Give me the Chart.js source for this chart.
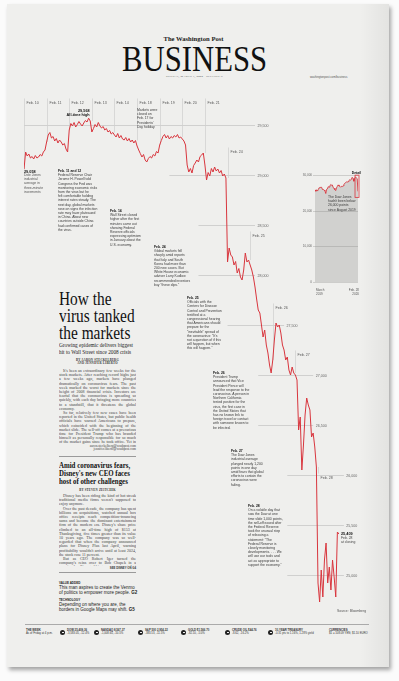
<!DOCTYPE html>
<html><head><meta charset="utf-8">
<script src="https://cdn.jsdelivr.net/npm/chart.js@4.4.0/dist/chart.umd.min.js"></script>
<style>
html,body{margin:0;padding:0;width:399px;height:681px;overflow:hidden;background:#fbfbfb;}
#paper{position:absolute;left:7px;top:4px;width:382px;height:663px;background:#efefed;box-shadow:2px 3px 4px rgba(0,0,0,0.35);}
#edge{position:absolute;left:360px;top:4px;width:29px;height:663px;background:linear-gradient(to right,rgba(0,0,0,0),rgba(0,0,0,0.05));}
canvas{position:absolute;}
.t{position:absolute;white-space:nowrap;color:#1a1a1a;}
.ann{position:absolute;font-family:"Liberation Sans",Arial,sans-serif;font-size:3.4px;line-height:4.2px;color:#3a3a3a;white-space:nowrap;z-index:3;}
.ann b{color:#111;}
.serif{font-family:"Liberation Serif","Times New Roman",serif;}
.body{position:absolute;font-family:"Liberation Serif",serif;font-size:4px;line-height:4.2px;color:#444;text-align:justify;width:77px;overflow:hidden;}
.body p{margin:0;text-indent:4px;}
.tick{position:absolute;font-family:"Liberation Sans",sans-serif;font-size:2.8px;line-height:3.6px;color:#333;white-space:nowrap;}
.ico{position:absolute;width:5px;height:5px;border-radius:50%;background:#222;}
.ico:after{content:"";position:absolute;left:1.5px;top:2px;width:2px;height:1px;background:#eee;}
</style></head>
<body>
<div id="paper"></div>
<div id="edge"></div>

<!-- masthead -->
<div class="t serif" style="left:163px;top:35px;width:61px;text-align:center;font-size:6.6px;line-height:7px;font-weight:bold;">The Washington Post</div>
<div class="t serif" style="left:122px;top:41px;font-size:36px;line-height:36px;transform:scaleX(0.853);transform-origin:left top;color:#111;">BUSINESS</div>
<div class="t serif" style="left:159px;top:74.5px;width:71px;text-align:center;font-size:2.8px;letter-spacing:0.25px;color:#444;">SUNDAY, MARCH 1, 2020 · SECTION G</div>
<div class="t" style="left:310px;top:74.5px;font-family:'Liberation Sans';font-size:2.8px;color:#555;">washingtonpost.com/business</div>

<canvas id="main" width="399" height="681" style="left:0;top:0;z-index:2;"></canvas>
<canvas id="inset" width="70" height="140" style="left:296px;top:165px;z-index:2;"></canvas>

<!-- chart annotations -->
<div class="ann" style="left:24px;top:173px;color:#555;">Dow Jones<br>industrial<br>average in<br>three-minute<br>increments</div>
<div class="ann" style="left:58px;top:169px;"><b>Feb. 11 and 12</b><br>Federal Reserve Chair<br>Jerome H. Powell told<br>Congress the Fed was<br>monitoring economic risks<br>from the virus but he<br>felt comfortable holding<br>interest rates steady. The<br>next day, global markets<br>rose on signs the infection<br>rate may have plateaued<br>in China. About new<br>countries outside China<br>had confirmed cases of<br>the virus.</div>
<div class="ann" style="left:137px;top:108px;">Markets were<br>closed on<br>Feb. 17 for<br>Presidents'<br>Day holiday</div>
<div class="ann" style="left:110px;top:209px;"><b>Feb. 14</b><br>Wall Street closed<br>higher after the first<br>minutes came out<br>showing Federal<br>Reserve officials<br>expressing optimism<br>in January about the<br>U.S. economy.</div>
<div class="ann" style="left:154px;top:245px;"><b>Feb. 24</b><br>Global markets fell<br>sharply amid reports<br>that Italy and South<br>Korea had more than<br>200 new cases. But<br>White House economic<br>adviser Larry Kudlow<br>recommended investors<br>buy "these dips."</div>
<div class="ann" style="left:187px;top:296px;"><b>Feb. 25</b><br>Officials with the<br>Centers for Disease<br>Control and Prevention<br>testified at a<br>congressional hearing<br>that Americans should<br>prepare for the<br>"inevitable" spread of<br>the coronavirus: "It's<br>not a question of if this<br>will happen, but when<br>this will happen."</div>
<div class="ann" style="left:213px;top:371px;"><b>Feb. 26</b><br>President Trump<br>announced that Vice<br>President Pence will<br>lead the response to the<br>coronavirus. A person in<br>Northern California<br>tested positive for the<br>virus, the first case in<br>the United States that<br>has no known link to<br>foreign travel or contact<br>with someone known to<br>be infected.</div>
<div class="ann" style="left:231px;top:449px;"><b>Feb. 27</b><br>The Dow Jones<br>industrial average<br>plunged nearly 1,200<br>points in one day<br>amid fears that global<br>efforts to contain the<br>coronavirus were<br>failing.</div>
<div class="ann" style="left:248px;top:504px;"><b>Feb. 28</b><br>On a volatile day that<br>saw the Dow at one<br>time slide 1,000 points,<br>the sell-off eased after<br>the Federal Reserve<br>took the unusual step<br>of releasing a<br>statement: "The<br>Federal Reserve is<br>closely monitoring<br>developments. . . . We<br>will use our tools and<br>act as appropriate to<br>support the economy."</div>
<div class="ann" style="left:337px;top:609px;color:#555;">Source: Bloomberg</div>
<div class="ann" style="left:328px;top:195px;">The Dow Jones<br>hadn't been below<br>26,000 points<br>since August 2019</div>
<div class="ann" style="left:316px;top:289px;font-size:3px;line-height:3.6px;color:#555;">March<br>2019</div>
<div class="ann" style="left:346px;top:289px;width:13px;text-align:right;font-size:3px;line-height:3.6px;color:#555;">Feb. 28<br>2020</div>

<!-- left column -->
<div class="t serif" style="left:59px;top:290px;font-size:19px;line-height:17px;transform:scaleX(0.81);transform-origin:left top;color:#111;">How the<br>virus tanked<br>the markets</div>
<div class="t serif" style="left:59px;top:342px;font-size:6.6px;line-height:6.8px;transform:scaleX(0.8);transform-origin:left top;color:#222;">Growing epidemic delivers biggest<br>hit to Wall Street since 2008 crisis</div>
<div class="t serif" style="left:59px;top:358.5px;width:77px;text-align:center;font-size:3px;line-height:3.9px;font-weight:bold;letter-spacing:0.2px;color:#333;">BY AARON STECKELBERG<br>AND JENNIFER LIBERTO</div>
<div class="body" style="left:59px;top:369px;height:76px;">
<p>It's been an extraordinary few weeks for the stock markets. After reaching record highs just a few weeks ago, markets have plunged dramatically on coronavirus fears. The past week marked the worst for markets since the height of 2008 financial crisis. Investors are fearful that the coronavirus is spreading so quickly, with each day bringing more countries to a standstill, that it threatens the global economy.</p>
<p>So far, relatively few new cases have been reported in the United States, but public health officials have warned Americans to prepare, which coincided with the beginning of the market slide. The sell-off comes at a precarious time for President Trump who has branded himself as personally responsible for so much of the market gains since he took office. Yet in the past week, Wall Street lost more than a third of stock gains since President Trump's election in November 2016.</p>
</div>
<div class="t serif" style="left:59px;top:444.5px;width:77px;text-align:right;font-size:3.4px;line-height:3.8px;color:#444;">aaron.steckelberg@washpost.com<br>jennifer.liberto@washpost.com</div>
<div style="position:absolute;left:59px;top:455.5px;width:77px;height:1px;background:#9a9a9a;"></div>
<div class="t serif" style="left:59px;top:461px;font-size:8.6px;line-height:8.2px;transform:scaleX(0.8);transform-origin:left top;color:#111;font-weight:bold;">Amid coronavirus fears,<br>Disney's new CEO faces<br>host of other challenges</div>
<div class="t serif" style="left:59px;top:487.5px;width:77px;text-align:center;font-size:3px;font-weight:bold;letter-spacing:0.2px;color:#333;">BY STEVEN ZEITCHIK</div>
<div class="body" style="left:59px;top:494px;height:72px;">
<p>Disney has been riding the kind of hot streak traditional media firms weren't supposed to enjoy anymore.</p>
<p>Over the past decade, the company has spent billions on acquisitions, watched annual box office receipts reach competition-trouncing sums and become the dominant entertainment firm of the modern era. Disney's share price climbed to an all-time high of $153 at Thanksgiving, five times greater than its value 10 years ago. The company was so well-regarded that when the company announced plans for Disney Plus last April, warning profitability wouldn't arrive until at least 2024, the stock rose 11 percent.</p>
<p>But as CEO Robert Iger turned the company's reins over to Bob Chapek in a surprise headline-grabbing announcement last week, analysts said Disney now faces the type of hurdles it has not</p>
</div>
<div class="t" style="left:59px;top:565.5px;width:77px;text-align:right;font-family:'Liberation Sans';font-size:2.8px;font-weight:bold;color:#333;">SEE DISNEY ON G4</div>
<div style="position:absolute;left:59px;top:572px;width:77px;height:1px;background:#9a9a9a;"></div>
<div class="t" style="left:59px;top:581px;font-family:'Liberation Sans';font-size:3px;font-weight:bold;color:#222;">VALUE ADDED</div>
<div class="t" style="left:59px;top:584.5px;font-family:'Liberation Sans';font-size:4.5px;line-height:5.3px;color:#222;">This man aspires to create the Venmo<br>of politics to empower more people. <b>G2</b></div>
<div class="t" style="left:59px;top:598px;font-family:'Liberation Sans';font-size:3px;font-weight:bold;color:#222;">TECHNOLOGY</div>
<div class="t" style="left:59px;top:602px;font-family:'Liberation Sans';font-size:4.5px;line-height:5.3px;color:#222;">Depending on where you are, the<br>borders in Google Maps may shift. <b>G5</b></div>

<!-- bottom ticker -->
<div style="position:absolute;left:25px;top:624px;width:344px;height:0.6px;background:#aaa;"></div>
<div class="tick" style="left:26px;top:628.5px;"><b>THE WEEK</b><br>As of Friday at 4 p.m.</div>
<div class="ico" style="left:60px;top:629.5px;"></div>
<div class="tick" style="left:67px;top:628.5px;"><b>DOW 25,409.36</b><br>-3,583.05, -12.4%</div>
<div class="ico" style="left:94px;top:629.5px;"></div>
<div class="tick" style="left:101px;top:628.5px;"><b>NASDAQ 8,567.37</b><br>-1,008.65, -10.5%</div>
<div class="ico" style="left:138px;top:629.5px;"></div>
<div class="tick" style="left:145px;top:628.5px;"><b>S&amp;P 500 2,954.22</b><br>-383.53, -11.5%</div>
<div class="ico" style="left:181px;top:629.5px;"></div>
<div class="tick" style="left:188px;top:628.5px;"><b>GOLD $1,566.70</b><br>-82.10, -5.0%</div>
<div class="ico" style="left:225px;top:629.5px;"></div>
<div class="tick" style="left:232px;top:628.5px;"><b>CRUDE OIL $44.76</b><br>-8.62, -16.2%</div>
<div class="ico" style="left:268px;top:629.5px;"></div>
<div class="tick" style="left:275px;top:628.5px;"><b>10-YEAR TREASURY</b><br>-0.31 pts to 1.16%, 1.28% yield</div>
<div class="tick" style="left:329px;top:628.5px;"><b>CURRENCIES</b><br>$1 = 108.09 YEN; $1.10 EURO</div>

<script>
// ---------- main chart data: Dow Jones intraday, 14 readings per trading day ----------
const days = ['Feb. 10','Feb. 11','Feb. 12','Feb. 13','Feb. 14','Feb. 18','Feb. 19','Feb. 20','Feb. 21','Feb. 24','Feb. 25','Feb. 26','Feb. 27','Feb. 28'];
const feb10 = [29058,29230,29190,29210,29170,29185,29160,29195,29170,29180,29205,29190,29230,29250];
const feb11 = [29330,29400,29425,29370,29385,29340,29365,29320,29350,29330,29300,29315,29260,29230];
const feb12 = [29450,29515,29490,29525,29480,29505,29535,29510,29490,29520,29545,29530,29568,29540];
const feb13 = [29430,29465,29505,29480,29525,29490,29470,29485,29450,29465,29430,29445,29410,29425];
const feb14 = [29400,29380,29415,29370,29395,29360,29350,29375,29340,29365,29330,29350,29320,29345];
const feb18 = [29290,29250,29215,29180,29205,29150,29130,29165,29185,29170,29205,29190,29235,29220];
const feb19 = [29300,29345,29385,29405,29370,29395,29360,29385,29370,29395,29380,29405,29370,29380];
const feb20 = [29360,29340,29300,29100,29030,29065,29020,29095,29120,29150,29130,29185,29200,29220];
const feb21 = [29100,28950,29025,28990,29065,29030,29080,29040,29060,29020,29045,28990,29010,28970];
const feb24 = [28130,28270,28200,28180,28100,28135,28020,28065,27980,27950,28050,28220,28130,28150];
const feb25 = [28100,28050,27980,27880,27760,27650,27620,27500,27380,27450,27300,27220,27100,27020];
const feb26 = [27150,27350,27520,27480,27500,27420,27300,27250,27150,27180,27050,27000,27080,27020];
const feb27 = [27000,26950,26450,26580,26050,26300,26600,26770,26700,26650,26380,26420,26280,26080];
const feb28 = [24920,24730,25050,24780,25150,25320,24920,25080,24850,25150,24980,24780,25430,25409];
const dowValues = [].concat(feb10,feb11,feb12,feb13,feb14,feb18,feb19,feb20,feb21,feb24,feb25,feb26,feb27,feb28);
const pointsPerDay = 14;

const gridValues = [29500,29000,28500,28000,27500,27000,26500,26000,25500,25000];
const gridLabels = ['29,500','29,000','28,500','28,000','27,500','27,000','26,500','26,000','25,500','25,000'];

// ---------- inset data: weekly closes, March 2019 - Feb. 28 2020 ----------
const insetValues = [25820,25450,25850,25500,25930,26420,26410,26560,26540,25940,25940,25760,25580,24815,25980,26090,26720,26600,26920,27330,27150,27190,26480,26290,25890,25630,26400,26800,27220,26935,26820,26570,26820,26770,26960,27350,27680,27875,28050,28015,28135,28455,28645,28540,28820,29350,28990,28256,29100,29400,29220,28990,25409];
const insetTicks = [0,10000,20000,30000];
const insetTickLabels = ['0','10,000','20,000','30,000'];

// ---------- layout (not data) ----------
const gridFrom = [0,90,108,108,126,145,145,163,163,163];   // in slot units
const gridTo   = [143,143,143,143,161,179,179,198,198,198];
const topRowCount = 9;
const dateLabelRise = [0,0,0,0,0,0,0,0,0,26,24,15,18,-11];
const RED = '#d8353d';
const fmt = v => v.toLocaleString('en-US');

const mainDecor = {
  id:'mainDecor',
  beforeDatasetsDraw(chart){
    const {ctx, chartArea:a, scales:{x,y}} = chart;
    ctx.save();
    ctx.lineWidth = 0.7;
    ctx.strokeStyle = '#c3c3c1';
    ctx.font = '3.6px "Liberation Sans"';
    ctx.fillStyle = '#666';
    ctx.textBaseline = 'middle';
    gridValues.forEach((v,i)=>{
      const py = Math.round(y.getPixelForValue(v))+0.5;
      const x1 = x.getPixelForValue(gridFrom[i]), x2 = x.getPixelForValue(gridTo[i]);
      ctx.beginPath(); ctx.moveTo(x1,py); ctx.lineTo(x2,py); ctx.stroke();
      ctx.fillText(gridLabels[i], x2+2.5, py);
    });
    // day lines + labels
    ctx.strokeStyle = '#cfcfcd';
    days.forEach((d,i)=>{
      const slot = i*pointsPerDay;
      const px = Math.round(x.getPixelForValue(slot))+0.5;
      const lo = Math.max(0, slot-1), hi = Math.min(dowValues.length-1, slot+pointsPerDay-1);
      let top = -Infinity; for(let k=lo;k<=hi;k++) top = Math.max(top, dowValues[k]);
      const edge = i===0 ? dowValues[0] : Math.max(dowValues[slot-1], dowValues[slot]);
      const dataY = y.getPixelForValue(edge);
      const labelY = i < topRowCount ? a.top + 28 : y.getPixelForValue(top) - dateLabelRise[i];
      ctx.beginPath(); ctx.moveTo(px, labelY-4.5); ctx.lineTo(px, dataY); ctx.stroke();
      ctx.fillStyle = '#555';
      ctx.fillText(d, px+2, labelY);
    });
    ctx.restore();
  },
  afterDatasetsDraw(chart){
    const {ctx, scales:{x,y}} = chart;
    ctx.save();
    ctx.fillStyle = '#111';
    ctx.textBaseline = 'middle';
    // high
    let mi = 0; dowValues.forEach((v,i)=>{ if(v>dowValues[mi]) mi=i; });
    const hx = x.getPixelForValue(mi), hy = y.getPixelForValue(dowValues[mi]);
    ctx.textAlign = 'right';
    ctx.font = 'bold 3.8px "Liberation Sans"';
    ctx.fillText(fmt(dowValues[mi]), hx+1, hy-7.5);
    ctx.fillText('All-time high', hx+1, hy-3.5);
    // start
    ctx.textAlign = 'left';
    ctx.fillText(fmt(dowValues[0]), x.getPixelForValue(0), y.getPixelForValue(dowValues[0])+3);
    // close
    const li = dowValues.length-1;
    const cx = x.getPixelForValue(li)+2, cy = y.getPixelForValue(dowValues[li]);
    ctx.fillText(fmt(dowValues[li]), cx, cy);
    ctx.font = '3.4px "Liberation Sans"'; ctx.fillStyle='#444';
    ctx.fillText('Feb. 28', cx, cy+4.2);
    ctx.fillText('at closing', cx, cy+8.4);
    ctx.restore();
  }
};

new Chart(document.getElementById('main'), {
  type:'line',
  data:{ datasets:[{ data: dowValues.map((v,i)=>({x:i,y:v})), borderColor:RED, borderWidth:1, pointRadius:0, tension:0, fill:false }]},
  options:{
    responsive:false, animation:false, events:[],
    layout:{padding:{left:24,right:60,top:75,bottom:56}},
    scales:{ x:{type:'linear',min:0,max:dowValues.length-1,display:false},
             y:{min:24500,max:30000,display:false} },
    plugins:{legend:{display:false},tooltip:{enabled:false}}
  },
  plugins:[mainDecor]
});

const insetDecor = {
  id:'insetDecor',
  beforeDatasetsDraw(chart){
    const {ctx, chartArea:a, scales:{y}} = chart;
    ctx.save();
    ctx.strokeStyle = '#b5b5b3'; ctx.lineWidth = 0.6;
    ctx.font = '3px "Liberation Sans"'; ctx.fillStyle = '#666';
    ctx.textAlign = 'right'; ctx.textBaseline = 'middle';
    insetTicks.forEach((t,i)=>{
      const py = Math.round(y.getPixelForValue(t))+0.5;
      ctx.beginPath(); ctx.moveTo(a.left-2, py); ctx.lineTo(a.right, py); ctx.stroke();
      ctx.fillText(insetTickLabels[i], a.left-3, py);
    });
    ctx.restore();
  },
  afterDatasetsDraw(chart){
    const {ctx, scales:{x,y}} = chart;
    const n = insetValues.length, seg = insetValues.slice(n-4);
    const x1 = x.getPixelForValue(n-4)-0.5, x2 = x.getPixelForValue(n-1)+1;
    const y1 = y.getPixelForValue(Math.max(...seg))-2, y2 = y.getPixelForValue(Math.min(...seg))+6;
    ctx.save();
    ctx.strokeStyle = RED; ctx.lineWidth = 0.8;
    ctx.strokeRect(x1, y1, x2-x1, y2-y1);
    ctx.fillStyle = '#111'; ctx.font = 'bold 3.4px "Liberation Sans"';
    ctx.textAlign = 'right'; ctx.textBaseline = 'bottom';
    ctx.fillText('Detail', x2+2, y1-0.5);
    ctx.restore();
  }
};

new Chart(document.getElementById('inset'), {
  type:'line',
  data:{ datasets:[{ data: insetValues.map((v,i)=>({x:i,y:v})), borderColor:RED, borderWidth:0.9, pointRadius:0, tension:0,
                     fill:'origin', backgroundColor:'rgba(140,140,140,0.3)' }]},
  options:{
    responsive:false, animation:false, events:[],
    layout:{padding:{left:19,right:8,top:10,bottom:23}},
    scales:{ x:{type:'linear',min:0,max:insetValues.length-1,display:false},
             y:{min:0,max:30000,display:false} },
    plugins:{legend:{display:false},tooltip:{enabled:false},filler:{propagate:false}}
  },
  plugins:[insetDecor]
});
</script>
</body></html>
